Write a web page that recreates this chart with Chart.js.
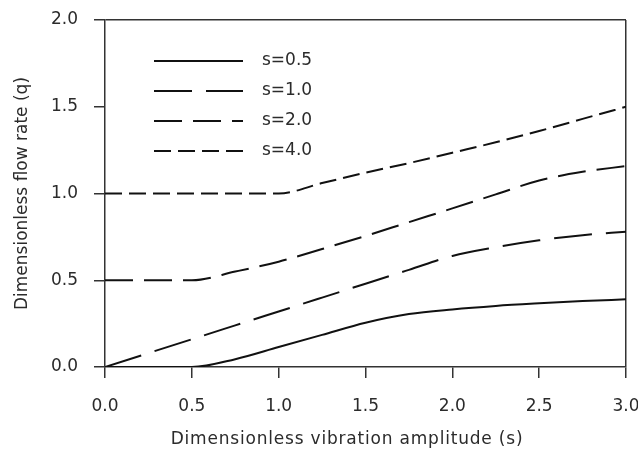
<!DOCTYPE html>
<html>
<head>
<meta charset="utf-8">
<script src="https://cdn.jsdelivr.net/npm/chart.js@4.4.1/dist/chart.umd.min.js"></script>
<style>
  html, body { margin: 0; padding: 0; background: #fff; }
  #wrap { width: 638px; height: 453px; }
</style>
</head>
<body>
<div id="wrap"><canvas id="flowChart"></canvas></div>
<script>
// data
const amplitude = [0, 0.25, 0.5, 0.75, 1.0, 1.25, 1.5, 1.75, 2.0, 2.25, 2.5, 2.75, 3.0];
const q_s05 = [0, 0, 0, 0.045, 0.115, 0.185, 0.255, 0.305, 0.332, 0.352, 0.367, 0.38, 0.39];
const q_s10 = [0, 0.08, 0.16, 0.24, 0.32, 0.40, 0.48, 0.56, 0.64, 0.69, 0.73, 0.76, 0.78];
const q_s20 = [0.5, 0.5, 0.5, 0.55, 0.607, 0.68, 0.755, 0.835, 0.914, 0.995, 1.075, 1.125, 1.158];
const q_s40 = [1.0, 1.0, 1.0, 1.0, 1.0, 1.06, 1.12, 1.175, 1.235, 1.295, 1.36, 1.43, 1.5];
const seriesNames = ["s=0.5", "s=1.0", "s=2.0", "s=4.0"];
const xTitle = "Dimensionless vibration amplitude (s)";
const yTitle = "Dimensionless flow rate (q)";

const FONT = "'DejaVu Sans', sans-serif";
const TEXT = "#2b2b2b";
const AXIS = "#333";

function pts(ys) {
  return amplitude.map((x, i) => ({ x: x, y: ys[i] }));
}

const dashes = [[], [38, 14], [28, 11], [17, 7]];
const series = [q_s05, q_s10, q_s20, q_s40];

const datasets = series.map((ys, i) => ({
  label: seriesNames[i],
  data: pts(ys),
  borderColor: "#111",
  borderWidth: 2,
  borderDash: dashes[i],
  pointRadius: 0,
  fill: false,
  cubicInterpolationMode: "monotone"
}));

// legend inside the plot + x title placed off-centre like the original
const insideLegend = {
  id: "insideLegend",
  afterDraw(chart) {
    const ctx = chart.ctx;
    const area = chart.chartArea;
    ctx.save();
    ctx.fillStyle = TEXT;
    ctx.font = "17px " + FONT;
    ctx.textBaseline = "middle";
    chart.data.datasets.forEach((ds, i) => {
      const y = area.top + 41 + i * 30;
      ctx.strokeStyle = ds.borderColor;
      ctx.lineWidth = ds.borderWidth;
      ctx.setLineDash(ds.borderDash);
      ctx.beginPath();
      ctx.moveTo(area.left + 49, y);
      ctx.lineTo(area.left + 138, y);
      ctx.stroke();
      ctx.setLineDash([]);
      ctx.textAlign = "left";
      ctx.fillText(ds.label, area.left + 157, y);
    });
    ctx.letterSpacing = "0.8px";
    ctx.textAlign = "center";
    ctx.fillText(xTitle, 347, 440);
    ctx.restore();
  }
};

new Chart(document.getElementById("flowChart"), {
  type: "line",
  data: { datasets: datasets },
  options: {
    animation: false,
    responsive: true,
    maintainAspectRatio: false,
    layout: { padding: { top: 20, right: 12, left: 0, bottom: 0 } },
    plugins: {
      legend: { display: false },
      tooltip: { enabled: false }
    },
    scales: {
      x: {
        type: "linear",
        min: 0,
        max: 3,
        afterFit(s) { s.height = 86; s.paddingRight = 0; s.paddingLeft = 0; },
        ticks: {
          stepSize: 0.5,
          padding: 18,
          color: TEXT,
          font: { family: FONT, size: 17 },
          maxRotation: 0,
          callback: v => v.toFixed(1)
        },
        grid: {
          color: c => (c.tick && c.tick.value === 3 ? AXIS : "rgba(0,0,0,0)"),
          tickColor: AXIS,
          tickLength: 11,
          lineWidth: 1.5
        },
        border: { color: AXIS, width: 1.5 },
        title: { display: false }
      },
      y: {
        min: 0,
        max: 2,
        afterFit(s) { s.width = 105; s.paddingTop = 0; },
        ticks: {
          stepSize: 0.5,
          padding: 16,
          color: TEXT,
          font: { family: FONT, size: 17 },
          callback: v => v.toFixed(1)
        },
        grid: {
          color: c => (c.tick && c.tick.value === 2 ? AXIS : "rgba(0,0,0,0)"),
          tickColor: AXIS,
          tickLength: 11,
          lineWidth: 1.5
        },
        border: { color: AXIS, width: 1.5 },
        title: {
          display: true,
          text: yTitle,
          color: TEXT,
          font: { family: FONT, size: 17 },
          padding: { top: 12, bottom: 0 }
        }
      }
    }
  },
  plugins: [insideLegend]
});
</script>
</body>
</html>
